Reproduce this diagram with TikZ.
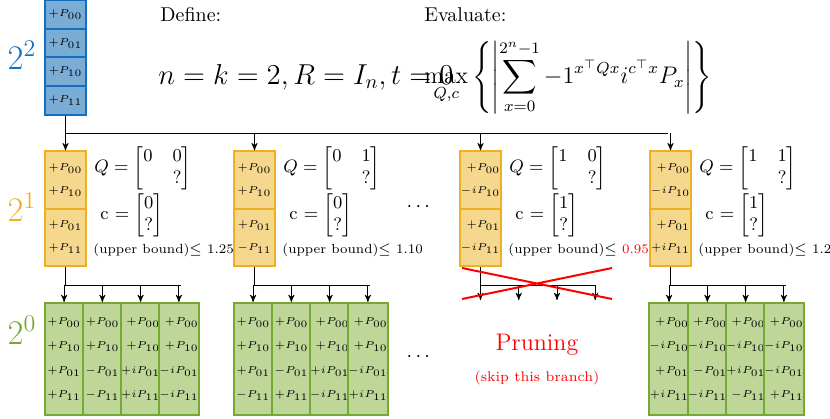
\documentclass[tikz,border=0pt]{standalone}
\usepackage{amsmath}
\usepackage{xcolor}
\usetikzlibrary{arrows,positioning,calc}
\definecolor{blueF}{RGB}{122,172,214}
\definecolor{blueD}{RGB}{20,112,190}
\definecolor{orF}{RGB}{246,215,142}
\definecolor{orD}{RGB}{238,176,32}
\definecolor{grF}{RGB}{190,214,152}
\definecolor{grD}{RGB}{118,168,50}
\newcommand{\cellfont}{\fontsize{5.4pt}{6pt}\selectfont}
\tikzstyle{bcell}=[draw=blueD, fill=blueF, line width=1pt, minimum width=20.5pt, minimum height=14.4pt, inner sep=0, font=\cellfont]
\tikzstyle{ohalf}=[draw=orD, fill=orF, line width=1pt, minimum width=20.5pt, minimum height=28.75pt, inner sep=0, font=\cellfont, align=right]
\tikzstyle{gcol}=[draw=grD, fill=grF, line width=1pt, minimum width=19.1pt, minimum height=56pt, inner sep=0, font=\cellfont, align=right]
\tikzstyle{lbl}=[anchor=west, inner sep=0, font=\small]
\tikzstyle{ub}=[anchor=west, inner sep=0, font=\fontsize{6.6pt}{8pt}\selectfont]
\tikzstyle{arr}=[->, >=stealth', thin]
\newcommand{\two}[2]{$#1$\\[5.5pt]$#2$}
\newcommand{\four}[4]{$#1$\\[6.3pt]$#2$\\[6.3pt]$#3$\\[6.3pt]$#4$}

\begin{document}
\begin{tikzpicture}[x=0.5pt, y=-0.5pt]
\useasboundingbox (0,0) rectangle (830,418);
% level labels
\node[blueD, font=\LARGE] (l2) at (22,55) {$2^2$};
\node[orD, font=\LARGE] (l1) at (22,207) {$2^1$};
\node[grD, font=\LARGE] (l0) at (22,330) {$2^0$};
% root
\foreach \t [count=\i] in {00,01,10,11}
  \node[bcell] (b\i) at (65.5,{-14.4+28.75*\i}) {$+P_{\t}$};
\node[anchor=west, inner sep=0] (def) at (160,15) {Define:};
\node[anchor=west, inner sep=0, font=\Large] (eq) at (158,77) {$n=k=2, R=I_n, t=0$};
\node[anchor=west, inner sep=0] (ev) at (424,15) {Evaluate:};
\node[anchor=west, inner sep=0, font=\large] (mx) at (424,77) {$\displaystyle\max_{Q,c}\left\{\left|\sum_{x=0}^{2^n-1}-1^{x^\top Qx}i^{c^\top x}P_x\right|\right\}$};
% level 1
\foreach \n/\x/\a/\b/\c/\d/\qa/\qb/\cc/\bd in {
  1/45/+P_{00}/+P_{10}/+P_{01}/+P_{11}/0/0/0/1.25,
  2/234/+P_{00}/+P_{10}/+P_{01}/-P_{11}/0/1/0/1.10,
  3/460/+P_{00}/-iP_{10}/+P_{01}/-iP_{11}/1/0/1/\textcolor{red}{0.95},
  4/650/+P_{00}/-iP_{10}/+P_{01}/+iP_{11}/1/1/1/1.20} {
  \node[ohalf] (oa\n) at (\x+20.5,180) {\two{\a}{\b}};
  \node[ohalf] (ob\n) at (\x+20.5,237.5) {\two{\c}{\d}};
  \node[lbl] (q\n) at (\x+49,168) {$Q=\begin{bmatrix}\qa & \qb\\ & ?\end{bmatrix}$};
  \node[lbl] (c\n) at (\x+55,215) {c $=\begin{bmatrix}\cc\\ ?\end{bmatrix}$};
  \node[ub] (u\n) at (\x+48,250) {(upper bound)$\leq$ \bd};
}
\coordinate (bus) at (65.5,133);
\draw (b4.south) -- (bus) -- (668,133);
\foreach \n in {1,...,4}
  \draw[arr] (oa\n.north |- bus) -- (oa\n.north);
% level 0
\foreach \n/\x in {1/45,2/234,4/650} {
  \coordinate (t\n) at (\x+20.5,285);
  \draw (ob\n.south) -- (t\n) -- ++(115,0);
}
\foreach \k/\t [count=\i] in {
  1/{\four{+P_{00}}{+P_{10}}{+P_{01}}{+P_{11}}},
  1/{\four{+P_{00}}{+P_{10}}{-P_{01}}{-P_{11}}},
  1/{\four{+P_{00}}{+P_{10}}{+iP_{01}}{+iP_{11}}},
  1/{\four{+P_{00}}{+P_{10}}{-iP_{01}}{-iP_{11}}},
  2/{\four{+P_{00}}{+P_{10}}{+P_{01}}{-P_{11}}},
  2/{\four{+P_{00}}{+P_{10}}{-P_{01}}{+P_{11}}},
  2/{\four{+P_{00}}{+P_{10}}{+iP_{01}}{-iP_{11}}},
  2/{\four{+P_{00}}{+P_{10}}{-iP_{01}}{+iP_{11}}},
  4/{\four{+P_{00}}{-iP_{10}}{+P_{01}}{+iP_{11}}},
  4/{\four{+P_{00}}{-iP_{10}}{-P_{01}}{-iP_{11}}},
  4/{\four{+P_{00}}{-iP_{10}}{+iP_{01}}{-P_{11}}},
  4/{\four{+P_{00}}{-iP_{10}}{-iP_{01}}{+P_{11}}}} {
  \pgfmathtruncatemacro{\j}{mod(\i-1,4)}
  \node[gcol] (g\i) at ($(t\k)+(\j*38.25-1.4,74)$) {\t};
  \draw[arr] (g\i.north |- t\k) -- (g\i.north);
}
% pruned branch
\coordinate (t3) at (480.5,285);
\draw (ob3.south) -- (t3) -- ++(115,0);
\foreach \j in {0,...,3}
  \draw[arr] ($(t3)+(\j*38.25,0)$) -- ++(0,15);
\draw[red, line width=1pt] (462,268) -- (612,299) (612,268) -- (462,299);
\node[red, font=\large] (pr) at (537,345) {Pruning};
\node[red, font=\scriptsize] (sk) at (537,378) {(skip this branch)};
% dots
\node (d1) at (420,207) {$\cdots$};
\node (d2) at (420,357) {$\cdots$};
\end{tikzpicture}
\end{document}
